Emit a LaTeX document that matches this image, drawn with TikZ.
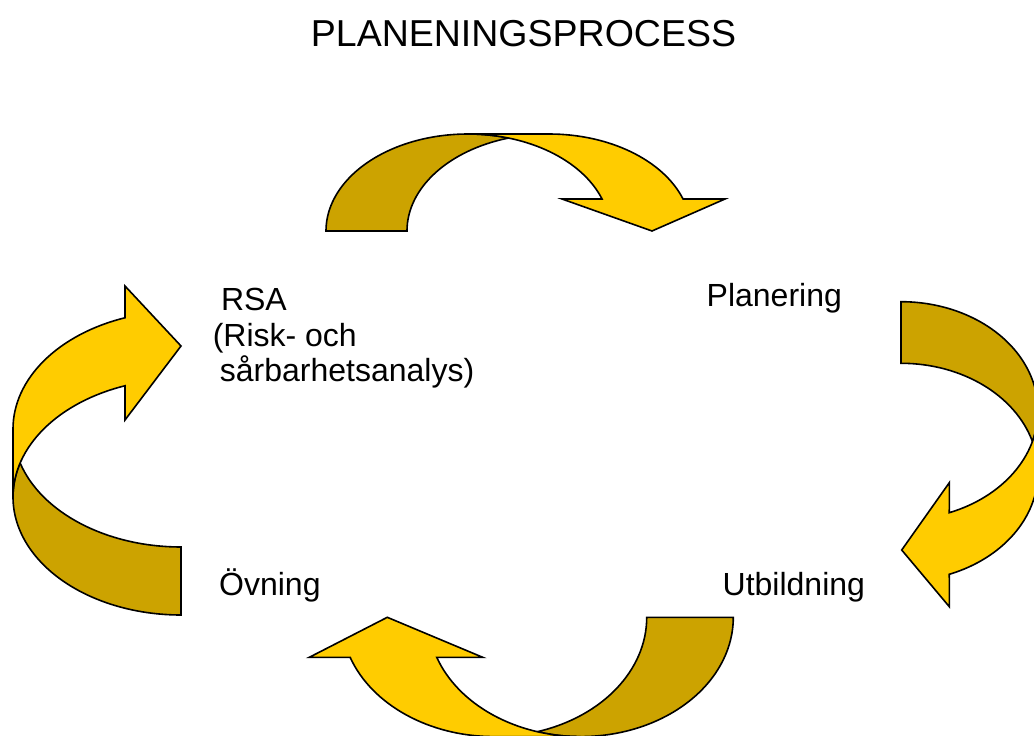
\documentclass[tikz,border=0pt]{standalone}
\usepackage{fontspec}
\setmainfont{Liberation Sans}
\usetikzlibrary{calc}
\definecolor{yel}{RGB}{255,204,0}
\definecolor{dk}{RGB}{204,163,0}
\begin{document}
\begin{tikzpicture}[x=1pt,y=1pt,yscale=-1,
  band/.style={draw=black,line width=1.6pt,line join=miter},
  lbl/.style={inner sep=0pt,anchor=base west,font=\fontsize{32}{35.5}\selectfont}]
\useasboundingbox (0,0) rectangle (1034,736);
\clip (0,0) rectangle (1034,736);
% title
\node[inner sep=0pt,anchor=base,font=\fontsize{37.5}{40}\selectfont] (title) at (523.5,46.3) {PLANENINGSPROCESS};
% labels
\node[lbl] (rsa) at (212.6,310.5) {\vtop{\hbox{\hspace*{8.2pt}RSA}\hbox{(Risk- och}\hbox{\hspace*{7.1pt}sårbarhetsanalys)}}};
\node[lbl] (plan) at (706.5,306) {Planering};
\node[lbl] (utb) at (722.5,595.5) {Utbildning};
\node[lbl] (ovn) at (219,595.5) {Övning};
% top arrow (RSA -> Planering)
\path[band,fill=dk] (326,231) arc[start angle=180,end angle=286.57,x radius=142,y radius=97]
  arc[start angle=253.43,end angle=180,x radius=142,y radius=97] -- cycle;
\path[band,fill=yel] ($(468,231)+(340.74:142 and 97)$) arc[start angle=340.74,end angle=270,x radius=142,y radius=97]
  -- (549,134) arc[start angle=270,end angle=340.74,x radius=142,y radius=97]
  -- (725,199) -- (652,231) -- (562,199) -- cycle;
% right arrow (Planering -> Utbildning)
\path[band,fill=dk] (901,301.7) arc[start angle=270,end angle=376.41,x radius=137,y radius=109]
  arc[start angle=343.59,end angle=270,x radius=137,y radius=109] -- cycle;
\path[band,fill=yel] ($(901,410.7)+(69.36:137 and 109)$) arc[start angle=69.36,end angle=0,x radius=137,y radius=109]
  -- (1038,472.3) arc[start angle=0,end angle=69.36,x radius=137,y radius=109]
  -- (949.3,606.7) -- (901.7,550) -- (949.3,482.7) -- cycle;
% bottom arrow (Utbildning -> Ovning)
\path[band,fill=dk] (733.3,617.3) arc[start angle=0,end angle=106.47,x radius=152.7,y radius=119.3]
  arc[start angle=73.53,end angle=0,x radius=152.7,y radius=119.3] -- cycle;
\path[band,fill=yel] ($(580.6,617.3)+(160.41:152.7 and 119.3)$) arc[start angle=160.41,end angle=90,x radius=152.7,y radius=119.3]
  -- (494,736.6) arc[start angle=90,end angle=160.41,x radius=152.7,y radius=119.3]
  -- (309.3,657.3) -- (387.3,617.3) -- (482.7,657.3) -- cycle;
% left arrow (Ovning -> RSA)
\path[band,fill=dk] (181,615) arc[start angle=90,end angle=196.75,x radius=168,y radius=118]
  arc[start angle=163.25,end angle=90,x radius=168,y radius=118] -- cycle;
\path[band,fill=yel] ($(181,497)+(250.53:168 and 118)$) arc[start angle=250.53,end angle=180,x radius=168,y radius=118]
  -- (13,429) arc[start angle=180,end angle=250.53,x radius=168,y radius=118]
  -- (125,286) -- (181,346) -- (125,420) -- cycle;
\end{tikzpicture}
\end{document}
